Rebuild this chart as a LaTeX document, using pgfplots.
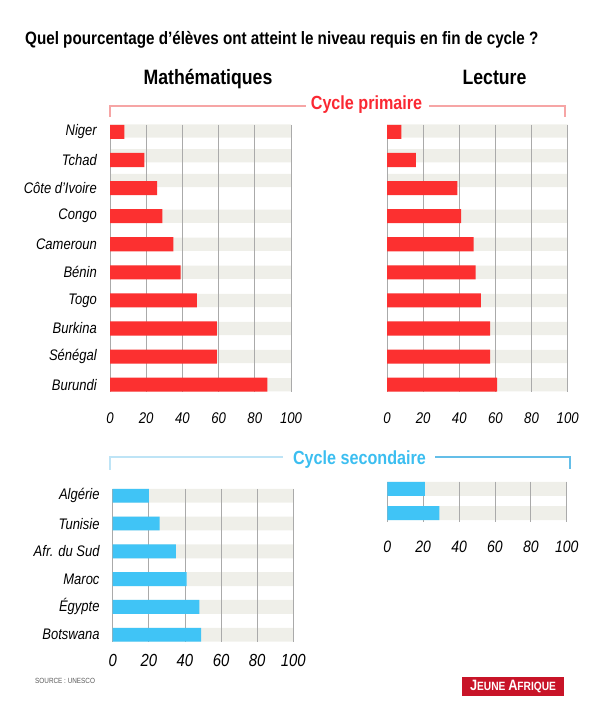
\documentclass[border=0pt]{standalone}
\usepackage{fontspec}
\setmainfont{Liberation Sans}[FakeStretch=0.85]
\usepackage{pgfplots}
\pgfplotsset{compat=1.18}
\definecolor{barred}{RGB}{252,48,48}
\definecolor{barblue}{RGB}{64,196,246}
\definecolor{band}{RGB}{239,239,233}
\definecolor{gridc}{RGB}{170,170,170}
\definecolor{brkred}{RGB}{246,165,165}
\definecolor{txtred}{RGB}{250,40,50}
\definecolor{brkblueL}{RGB}{190,228,246}
\definecolor{brkblueR}{RGB}{100,190,232}
\definecolor{txtblue}{RGB}{60,190,240}
\definecolor{jared}{RGB}{200,20,40}
\pgfplotsset{
  panel/.style={
    scale only axis, set layers,
    xmin=0, xmax=100,
    xtick={0,20,40,60,80,100}, xticklabels={0,20,40,60,80,100},
    xmajorgrids, grid style={draw=gridc, line width=0.8pt},
    axis line style={draw=none}, tick style={draw=none}, major tick length=0pt,
    y dir=reverse,
    yticklabel style={font=\itshape\fontsize{15.3}{15.3}\selectfont, anchor=east, inner sep=0pt, xshift=-13pt},
  },
}
\begin{document}
\begin{tikzpicture}
% ---- top left: Mathematiques, primaire
\begin{axis}[panel, at={(110pt,321.3pt)}, anchor=south west, width=181pt, height=266.8pt,
  ymin=-0.25, ymax=9.25, ytick={0,...,9},
  yticklabels={Niger,Tchad,Côte d’Ivoire,Congo,Cameroun,Bénin,Togo,Burkina,Sénégal,Burundi},
  xticklabel style={font=\itshape\fontsize{15.5}{15.5}\selectfont, anchor=center, inner sep=0pt, yshift=-26.6pt}]
\addplot[xbar, bar shift=0pt, bar width=0.47, fill=band, draw=none, on layer=axis background]
  coordinates {(100,-0.03) (100,0.85) (100,1.73) (100,3) (100,4) (100,5) (100,6) (100,7) (100,8) (100,9)};
\addplot[xbar, bar shift=0pt, bar width=0.5, fill=barred, draw=none]
  coordinates {(8,0) (19,1) (26,2) (29,3) (35,4) (39,5) (48,6) (59,7) (59,8) (87,9)};
\end{axis}
% ---- top right: Lecture, primaire
\begin{axis}[panel, at={(387pt,321.3pt)}, anchor=south west, width=180.7pt, height=266.8pt,
  ymin=-0.25, ymax=9.25, ytick=\empty,
  xticklabel style={font=\itshape\fontsize{15.5}{15.5}\selectfont, anchor=center, inner sep=0pt, yshift=-26.6pt}]
\addplot[xbar, bar shift=0pt, bar width=0.47, fill=band, draw=none, on layer=axis background]
  coordinates {(100,-0.03) (100,0.85) (100,1.73) (100,3) (100,4) (100,5) (100,6) (100,7) (100,8) (100,9)};
\addplot[xbar, bar shift=0pt, bar width=0.5, fill=barred, draw=none]
  coordinates {(8,0) (16,1) (39,2) (41,3) (48,4) (49,5) (52,6) (57,7) (57,8) (61,9)};
\end{axis}
% ---- bottom left: Mathematiques, secondaire
\begin{axis}[panel, at={(112.7pt,71.3pt)}, anchor=south west, width=180.6pt, height=152.9pt,
  ymin=-0.25, ymax=5.25, ytick={0,...,5},
  yticklabels={Algérie,Tunisie,Afr. du Sud,Maroc,Égypte,Botswana},
  xticklabel style={font=\itshape\fontsize{17.5}{17.5}\selectfont, anchor=center, inner sep=0pt, yshift=-18.3pt}]
\addplot[xbar, bar shift=0pt, bar width=0.5, fill=band, draw=none, on layer=axis background]
  coordinates {(100,0) (100,1) (100,2) (100,3) (100,4) (100,5)};
\addplot[xbar, bar shift=0pt, bar width=0.5, fill=barblue, draw=none]
  coordinates {(20,0) (26,1) (35,2) (41,3) (48,4) (49,5)};
\end{axis}
% ---- bottom right: Lecture, secondaire
\begin{axis}[panel, at={(387.3pt,191.3pt)}, anchor=south west, width=179.4pt, height=40.1pt,
  ymin=-0.3, ymax=1.35, ytick=\empty,
  xticklabel style={font=\itshape\fontsize{16.5}{16.5}\selectfont, anchor=center, inner sep=0pt, yshift=-25pt}]
\addplot[xbar, bar shift=0pt, bar width=0.58, fill=band, draw=none, on layer=axis background]
  coordinates {(100,0) (100,1)};
\addplot[xbar, bar shift=0pt, bar width=0.58, fill=barblue, draw=none]
  coordinates {(21,0) (29,1)};
\end{axis}
% ---- texts
\node[anchor=base west, inner sep=0pt, font=\bfseries\fontsize{17.9}{17.9}\selectfont] at (25pt,668pt)
  {Quel pourcentage d’élèves ont atteint le niveau requis en fin de cycle ?};
\node[anchor=base, inner sep=0pt, font=\bfseries\fontsize{20.8}{20.8}\selectfont] at (208pt,628pt) {Mathématiques};
\node[anchor=base, inner sep=0pt, font=\bfseries\fontsize{20.8}{20.8}\selectfont] at (494.5pt,628pt) {Lecture};
\draw[brkred, line width=1.2pt] (110pt,596pt) -- (110pt,607pt) -- (306pt,607pt);
\draw[brkred, line width=1.2pt] (429pt,607pt) -- (565pt,607pt) -- (565pt,596pt);
\node[anchor=base, inner sep=0pt, text=txtred, font=\bfseries\fontsize{19}{19}\selectfont] at (366.5pt,603pt) {Cycle primaire};
\draw[brkblueL, line width=1.2pt] (110pt,243pt) -- (110pt,256pt) -- (283pt,256pt);
\draw[brkblueR, line width=1.2pt] (435pt,256pt) -- (570pt,256pt) -- (570pt,244pt);
\node[anchor=base, inner sep=0pt, text=txtblue, font=\bfseries\fontsize{19}{19}\selectfont] at (359.5pt,248pt) {Cycle secondaire};
\node[anchor=west, inner sep=0pt, text=black!65, font=\fontsize{7.5}{7.5}\selectfont] at (35pt,32pt) {SOURCE : UNESCO};
\fill[jared] (462pt,17pt) rectangle (564pt,36pt);
\node[inner sep=0pt, text=white, font=\bfseries] at (513pt,26.5pt)
  {{\fontsize{15}{15}\selectfont J}{\fontsize{12}{12}\selectfont EUNE }{\fontsize{15}{15}\selectfont A}{\fontsize{12}{12}\selectfont FRIQUE}};
\pgfresetboundingbox
\path[use as bounding box] (0,0) rectangle (600pt,713pt);
\end{tikzpicture}
\end{document}
